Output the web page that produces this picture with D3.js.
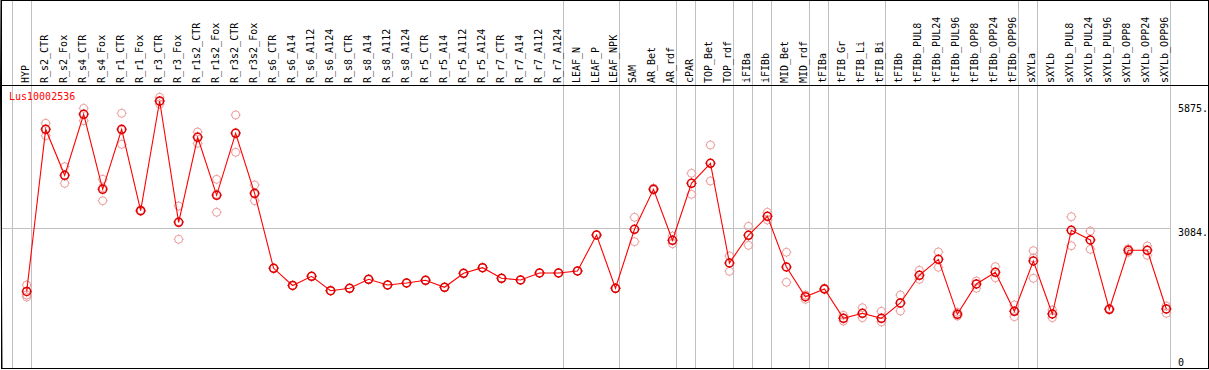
<!DOCTYPE html>
<html lang="en">
<head>
<meta charset="UTF-8">
<title>Lus10002536</title>
<script src="https://d3js.org/d3.v7.min.js"></script>
<style>
  body { margin: 0; background: #fff; }
  svg { display: block; }
  text { font-family: "DejaVu Sans Mono", monospace; font-size: 10px; }
  .grid { stroke: #c0c0c0; stroke-width: 1; shape-rendering: crispEdges; }
  .frame { stroke: #000; fill: none; shape-rendering: crispEdges; }
</style>
</head>
<body>
<svg id="chart" width="1209" height="370"></svg>
<script>
const categories = ["HYP","R_s2_CTR","R_s2_Fox","R_s4_CTR","R_s4_Fox","R_r1_CTR","R_r1_Fox","R_r3_CTR","R_r3_Fox",
  "R_r1s2_CTR","R_r1s2_Fox","R_r3s2_CTR","R_r3s2_Fox","R_s6_CTR","R_s6_A14","R_s6_A112","R_s6_A124",
  "R_s8_CTR","R_s8_A14","R_s8_A112","R_s8_A124","R_r5_CTR","R_r5_A14","R_r5_A112","R_r5_A124",
  "R_r7_CTR","R_r7_A14","R_r7_A112","R_r7_A124","LEAF_N","LEAF_P","LEAF_NPK","SAM","AR_Bet","AR_rdf",
  "cPAR","TOP_Bet","TOP_rdf","iFIBa","iFIBb","MID_Bet","MID_rdf","tFIBa","tFIB_Gr","tFIB_Li","tFIB_Bi",
  "tFIBb","tFIBb_PUL8","tFIBb_PUL24","tFIBb_PUL96","tFIBb_OPP8","tFIBb_OPP24","tFIBb_OPP96",
  "sXYLa","sXYLb","sXYLb_PUL8","sXYLb_PUL24","sXYLb_PUL96","sXYLb_OPP8","sXYLb_OPP24","sXYLb_OPP96"];

const meanValues = [1655,5306,4270,5643,3955,5306,3473,5943,3212,
  5126,3820,5216,3865,2177,1790,1997,1672,
  1727,1929,1801,1846,1907,1749,2064,2190,
  1952,1913,2071,2071,2116,2926,1727,3055,3955,2807,
  4090,4540,2296,2920,3347,2206,1537,1711,1051,1164,1051,
  1396,2019,2379,1141,1823,2087,1209,
  2341,1148,3032,2814,1254,2582,2582,1261];

const rep1 = [1801,5441,4464,5778,4180,5666,3490,6026,3579,
  5245,4180,5628,4052,2177,1790,1997,1672,
  1727,1929,1801,1846,1907,1749,2064,2190,
  1952,1913,2071,2071,2116,2926,1727,3325,3980,2904,
  4315,4952,2454,3122,3437,2537,1576,1730,1119,1290,1209,
  1576,2132,2544,1186,1891,2213,1351,
  2573,1238,3338,3016,1275,2618,2679,1328];

const rep2 = [1531,5162,4090,5499,3698,4968,3460,5875,2830,
  4990,3437,4788,3698,2177,1790,1997,1672,
  1727,1929,1801,1846,1907,1749,2064,2190,
  1952,1913,2071,2071,2116,2926,1727,2776,3940,2731,
  3842,4142,2109,2694,3264,1862,1479,1700,990,1065,968,
  1216,1929,2199,1103,1727,1965,1087,
  1952,1065,2685,2604,1240,2537,2469,1164];

const rep3 = [1576,5306,4258,5650,3990,5285,3480,5930,3228,
  5143,3843,5232,3845,2177,1790,1997,1672,
  1727,1929,1801,1846,1907,1749,2064,2190,
  1952,1913,2071,2071,2116,2926,1727,3055,3955,2807,
  4090,4540,2296,2920,3347,2206,1537,1711,1051,1164,1051,
  1396,2019,2379,1141,1823,2087,1209,
  2409,1148,3032,2814,1254,2582,2582,1261];

const yTicks = [0, 3084, 5875];
const gridAfter = ["HYP","R_r7_A124","LEAF_NPK","AR_rdf","cPAR","TOP_rdf","iFIBa","iFIBb",
  "MID_rdf","tFIBa","tFIB_Bi","tFIBb_OPP96","sXYLa","sXYLb_OPP96"];
const geneName = "Lus10002536";

const svg = d3.select("#chart");

const x = d3.scalePoint().domain(categories).range([26.7, 1166.3]);
const y = d3.scaleLinear().domain([0, 5875]).range([365, 104]);
const step = x.step();

// vertical group separators
const gx = [x(categories[0]) - step + 4].concat(gridAfter.map(c => x(c) + 4));
svg.selectAll("line.vgrid").data(gx).join("line")
  .attr("class", "grid vgrid")
  .attr("x1", d => Math.round(d) + 0.5).attr("x2", d => Math.round(d) + 0.5)
  .attr("y1", 0).attr("y2", 369);

// horizontal grid at middle tick
svg.append("line").attr("class", "grid")
  .attr("x1", 2).attr("x2", Math.round(gx[gx.length - 1]))
  .attr("y1", Math.round(y(yTicks[1])) + 0.5).attr("y2", Math.round(y(yTicks[1])) + 0.5);

// frame + header separator
svg.append("rect").attr("class", "frame")
  .attr("x", 1).attr("y", 0.5).attr("width", 1207).attr("height", 368)
  .attr("stroke-width", 1);
svg.append("line").attr("x1", 0).attr("x2", 2).attr("y1", 0).attr("y2", 369)
  .attr("stroke", "#000").attr("stroke-width", 1);
svg.append("line").attr("class", "frame")
  .attr("x1", 1).attr("x2", 1208).attr("y1", 85.5).attr("y2", 85.5);

// category labels (rotated)
svg.selectAll("text.cat").data(categories).join("text")
  .attr("class", "cat")
  .attr("transform", d => `translate(${Math.round(x(d)) + 2},83) rotate(-90)`)
  .attr("fill", "#000")
  .text(d => d);

// y tick labels
svg.selectAll("text.ytick").data(yTicks).join("text")
  .attr("class", "ytick")
  .attr("x", 1178)
  .attr("y", d => Math.min(y(d) + 8, 366))
  .attr("fill", "#000")
  .text(d => d === 0 ? "0" : d + ".");

// gene label
svg.append("text").attr("x", 9).attr("y", 100).attr("fill", "#ff0000").text(geneName);

function markerPath(cx, cy) {
  const r = 4, t = 1;
  return `M${cx - r},${cy}a${r},${r} 0 1,0 ${2 * r},0a${r},${r} 0 1,0 ${-2 * r},0` +
    `M${cx},${cy - r}v${-t}M${cx},${cy + r}v${t}M${cx - r},${cy}h${-t}M${cx + r},${cy}h${t}`;
}

// replicates
const reps = [];
categories.forEach((c, i) => {
  [rep1[i], rep2[i], rep3[i]].forEach(v => reps.push({ c, v }));
});
svg.append("g").selectAll("path").data(reps).join("path")
  .attr("d", d => markerPath(x(d.c), y(d.v)))
  .attr("fill", "none").attr("stroke", "#ec9a9a").attr("stroke-width", 1);

// mean line
const line = d3.line().x((d, i) => x(categories[i])).y(d => y(d));
svg.append("path").datum(meanValues)
  .attr("d", line).attr("fill", "none").attr("stroke", "#ff0000").attr("stroke-width", 1.1);

// mean markers
svg.append("g").selectAll("path").data(meanValues).join("path")
  .attr("d", (d, i) => markerPath(x(categories[i]), y(d)))
  .attr("fill", "none").attr("stroke", "#e00000").attr("stroke-width", 1.5);
</script>
</body>
</html>
